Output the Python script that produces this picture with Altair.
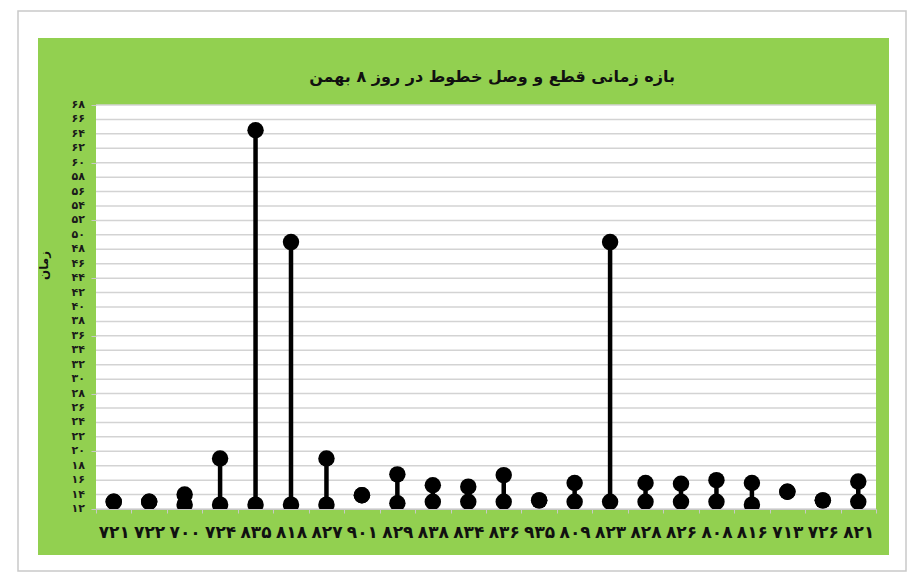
import altair as alt
import pandas as pd

# ---- data ----
categories = ['۷۲۱', '۷۲۲', '۷۰۰', '۷۲۴', '۸۳۵', '۸۱۸', '۸۲۷', '۹۰۱', '۸۲۹', '۸۳۸', '۸۳۴',
              '۸۳۶', '۹۳۵', '۸۰۹', '۸۲۳', '۸۲۸', '۸۲۶', '۸۰۸', '۸۱۶', '۷۱۳', '۷۲۶', '۸۲۱']
start_time = [13, 13, 12.6, 12.6, 12.6, 12.6, 12.6, 13.9, 12.8, 13, 13,
              13, 13.2, 13, 13, 13, 13, 13, 12.6, 14.4, 13.2, 13]
end_time = [13, 13, 14, 19, 64.5, 49, 19, 13.9, 16.8, 15.3, 15.1,
            16.7, 13.2, 15.6, 49, 15.6, 15.5, 16, 15.6, 14.4, 13.2, 15.8]
y_ticks = list(range(12, 69, 2))
y_tick_labels = ['۱۲', '۱۴', '۱۶', '۱۸', '۲۰', '۲۲', '۲۴', '۲۶', '۲۸', '۳۰', '۳۲', '۳۴', '۳۶', '۳۸',
                 '۴۰', '۴۲', '۴۴', '۴۶', '۴۸', '۵۰', '۵۲', '۵۴', '۵۶', '۵۸', '۶۰', '۶۲', '۶۴', '۶۶', '۶۸']
title_text = 'بازه زمانی قطع و وصل خطوط در روز ۸ بهمن'
y_title = 'زمان'

FONT = 'DejaVu Sans'
GREEN = '#92d050'
W, H = 780, 404
PL, PT = 96, 105

df = pd.DataFrame({'cat': categories, 'start': start_time, 'end': end_time})
pts = pd.DataFrame({'cat': categories * 2, 'v': start_time + end_time})
ticks_df = pd.DataFrame({'v': y_ticks, 'lab': y_tick_labels})
one = pd.DataFrame({'t': [title_text]})

xs = alt.X('cat:N', sort=categories, title=None,
           axis=alt.Axis(labelFont=FONT, labelFontSize=17, labelFontWeight='bold',
                         labelColor='#111', labelAngle=0, labelPadding=11,
                         tickBand='extent', tickColor='#c8c8c8', tickSize=4,
                         domainColor='#c8c8c8', grid=False, zindex=1))
yscale = alt.Scale(domain=[12, 68], nice=False, zero=False)

card = alt.Chart(one).mark_rect(fill='white', stroke='#c9c9c9', strokeWidth=1.5).encode(
    x=alt.value(18 - PL), x2=alt.value(906 - PL), y=alt.value(11 - PT), y2=alt.value(571 - PT))
green = alt.Chart(one).mark_rect(fill=GREEN).encode(
    x=alt.value(38 - PL), x2=alt.value(889 - PL), y=alt.value(38 - PT), y2=alt.value(555 - PT))
plotbg = alt.Chart(one).mark_rect(fill='white').encode(
    x=alt.value(0), x2=alt.value(W), y=alt.value(0), y2=alt.value(H))

title = alt.Chart(one).mark_text(font=FONT, fontSize=16, fontWeight='bold', color='#111',
                                 align='center', baseline='middle').encode(
    text='t:N', x=alt.value(W / 2 + 6), y=alt.value(77 - PT))

grid = alt.Chart(ticks_df).mark_rule(color='#d3d3d3', strokeWidth=1.5).encode(
    y=alt.Y('v:Q', scale=yscale,
            axis=alt.Axis(labels=False, ticks=True, tickColor='#c8c8c8', tickSize=5,
                          values=y_ticks, domain=False, grid=False, zindex=1,
                          title=y_title, titleFont=FONT, titleFontSize=12,
                          titleFontWeight='bold', titleColor='#111',
                          titleX=-46, titleY=160, titleAngle=270)),
    x=alt.value(0), x2=alt.value(W))

tick_text = alt.Chart(ticks_df).mark_text(font=FONT, fontSize=11, fontWeight='bold',
                                          color='#1a1a1a', align='right', baseline='middle').encode(
    y=alt.Y('v:Q', scale=yscale), x=alt.value(-11), text='lab:N')

stems = alt.Chart(df).mark_rule(color='black', strokeWidth=4.5).encode(
    x=xs, y=alt.Y('start:Q', scale=yscale), y2='end:Q')

dots = alt.Chart(pts).mark_circle(color='black', opacity=1, size=270, clip=True).encode(
    x=alt.X('cat:N', sort=categories), y=alt.Y('v:Q', scale=yscale))

chart = alt.layer(card, green, plotbg, title, grid, tick_text, stems, dots).properties(
    width=W, height=H,
    autosize=alt.AutoSizeParams(type='none'),
    padding={'left': PL, 'top': PT, 'right': 912 - PL - W, 'bottom': 577 - PT - H},
    background='white'
).configure_view(stroke=None)

chart.save('out.html', embed_options={'renderer': 'svg', 'actions': False})
